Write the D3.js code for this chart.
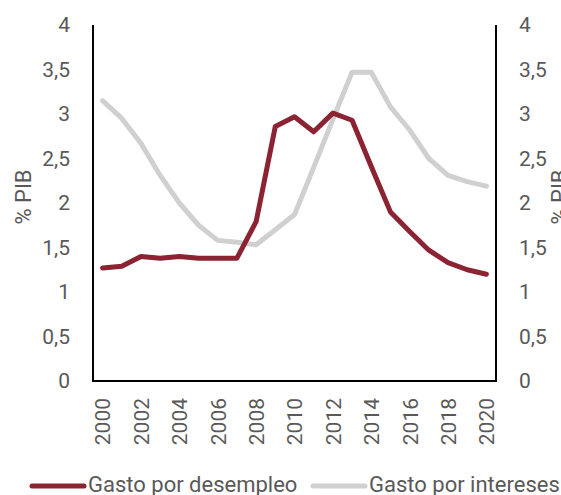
<!DOCTYPE html>
<html><head><meta charset="utf-8">
<script src="https://cdn.jsdelivr.net/npm/d3@7"></script>
<style>
html,body{margin:0;padding:0;background:#fff;overflow:hidden;}
text{font-family:Roboto,"Open Sans",sans-serif;fill:#595959;}
</style></head>
<body><svg id="c" width="561" height="495"></svg>
<script>
const years = [2000,2001,2002,2003,2004,2005,2006,2007,2008,2009,2010,2011,2012,2013,2014,2015,2016,2017,2018,2019,2020];
const desempleo = [1.27,1.29,1.40,1.38,1.40,1.38,1.38,1.38,1.79,2.86,2.97,2.80,3.01,2.93,2.41,1.90,1.68,1.47,1.33,1.25,1.20];
const intereses = [3.15,2.95,2.67,2.31,2.00,1.75,1.58,1.56,1.53,1.70,1.87,2.40,2.94,3.47,3.47,3.08,2.82,2.50,2.31,2.24,2.19];
const yTicks = [0,0.5,1,1.5,2,2.5,3,3.5,4];
const yearLabels = [2000,2002,2004,2006,2008,2010,2012,2014,2016,2018,2020];
const seriesNames = ["Gasto por desempleo","Gasto por intereses"];
const seriesColors = ["#8B2332","#D0D0D0"];
const axisTitle = "% PIB";

const svg = d3.select("#c");
const pL = 93, pR = 496, pT = 25, pB = 381;
const x = d3.scalePoint().domain(years).range([pL, pR]).padding(0.5);
const y = d3.scaleLinear().domain([0,4]).range([pB, pT]);
const fmt = d => String(d).replace(".", ",");

const gl = svg.append("g").attr("transform", `translate(${pL},0)`)
  .call(d3.axisLeft(y).tickValues(yTicks).tickFormat(fmt).tickSize(0).tickPadding(23));
gl.select(".domain").remove();
gl.selectAll("text").style("font-size","21px").attr("fill","#595959").style("font-family","Roboto");
const gr = svg.append("g").attr("transform", `translate(${pR},0)`)
  .call(d3.axisRight(y).tickValues(yTicks).tickFormat(fmt).tickSize(0).tickPadding(23));
gr.select(".domain").remove();
gr.selectAll("text").style("font-size","21px").attr("fill","#595959").style("font-family","Roboto");

const gx = svg.append("g").attr("transform", `translate(0,${pB})`)
  .call(d3.axisBottom(x).tickValues(yearLabels).tickSize(0));
gx.select(".domain").remove();
gx.selectAll("text")
  .attr("transform","translate(0,17) rotate(-90)")
  .attr("x",0).attr("y",0).attr("dy","0.35em")
  .attr("text-anchor","end")
  .style("font-size","21px").attr("fill","#595959").style("font-family","Roboto");

svg.append("line").attr("x1",pL).attr("x2",pL).attr("y1",pT).attr("y2",pB).attr("stroke","#000").attr("stroke-width",2);
svg.append("line").attr("x1",pR).attr("x2",pR).attr("y1",pT).attr("y2",pB).attr("stroke","#000").attr("stroke-width",2);
svg.append("line").attr("x1",pL-1).attr("x2",pR+1).attr("y1",pB).attr("y2",pB).attr("stroke","#000").attr("stroke-width",2);

svg.append("text").attr("transform","translate(23,197) rotate(-90)").attr("text-anchor","middle")
  .attr("dy","0.35em").style("font-size","22px").text(axisTitle);
svg.append("text").attr("transform","translate(559,197) rotate(-90)").attr("text-anchor","middle")
  .attr("dy","0.35em").style("font-size","22px").text(axisTitle);

const line = d3.line().x((d,i)=>x(years[i])).y(d=>y(d));
svg.append("path").datum(intereses).attr("d",line).attr("fill","none")
  .attr("stroke",seriesColors[1]).attr("stroke-width",5).attr("stroke-linejoin","round").attr("stroke-linecap","round");
svg.append("path").datum(desempleo).attr("d",line).attr("fill","none")
  .attr("stroke",seriesColors[0]).attr("stroke-width",5).attr("stroke-linejoin","round").attr("stroke-linecap","round");

const legX = [32, 313];
seriesNames.forEach((n,i)=>{
  svg.append("line").attr("x1",legX[i]).attr("x2",legX[i]+52).attr("y1",486).attr("y2",486)
    .attr("stroke",seriesColors[i]).attr("stroke-width",5).attr("stroke-linecap","round");
  svg.append("text").attr("x",legX[i]+56).attr("y",492).style("font-size","22px").text(n);
});
</script></body></html>
